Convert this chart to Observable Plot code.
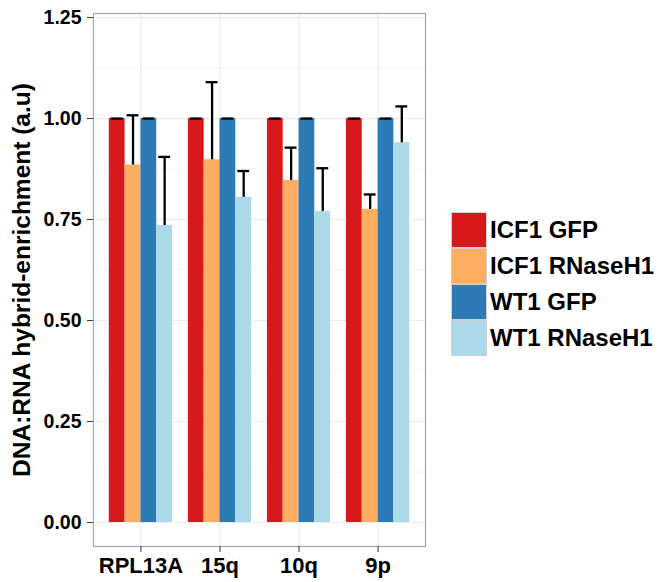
<!DOCTYPE html>
<html><head><meta charset="utf-8">
<script src="https://cdn.jsdelivr.net/npm/d3@7"></script>
<script src="https://cdn.jsdelivr.net/npm/@observablehq/plot@0.6"></script>
<style>
body{margin:0;background:#fff;font-family:"Liberation Sans",Arial,sans-serif;}
#wrap{position:relative;width:663px;height:582px;}
#legend{position:absolute;left:451px;top:212px;}
.key{display:flex;align-items:center;height:36px;}
.sw{width:36px;height:36px;box-sizing:border-box;border:1.5px solid #cfcfcf;}
.lab{margin-left:3px;font-weight:bold;font-size:24px;color:#000;white-space:nowrap;}
</style>
</head><body>
<div id="wrap"><div id="chart"></div><div id="legend"></div></div>
<script>
const categories = ["RPL13A", "15q", "10q", "9p"];
const series = ["ICF1 GFP", "ICF1 RNaseH1", "WT1 GFP", "WT1 RNaseH1"];
const colors = ["#d7191c", "#fdae61", "#2c7bb6", "#abd9e9"];
const icf1Gfp = [1.00, 1.00, 1.00, 1.00];
const icf1GfpErr = [0, 0, 0, 0];
const icf1RNaseH1 = [0.885, 0.898, 0.847, 0.775];
const icf1RNaseH1Err = [0.123, 0.192, 0.081, 0.037];
const wt1Gfp = [1.00, 1.00, 1.00, 1.00];
const wt1GfpErr = [0, 0, 0, 0];
const wt1RNaseH1 = [0.735, 0.805, 0.770, 0.940];
const wt1RNaseH1Err = [0.170, 0.065, 0.107, 0.090];
const yTicks = [0, 0.25, 0.5, 0.75, 1.0, 1.25];
const yMinor = [0.125, 0.375, 0.625, 0.875, 1.125];
const yTitle = "DNA:RNA hybrid-enrichment (a.u)";

const values = [icf1Gfp, icf1RNaseH1, wt1Gfp, wt1RNaseH1];
const errs = [icf1GfpErr, icf1RNaseH1Err, wt1GfpErr, wt1RNaseH1Err];
const barW = 0.2, capHalf = 0.075;
const rows = [];
series.forEach((s, j) => categories.forEach((c, i) => {
  const off = (j - series.length / 2) * barW;
  rows.push({series: s, category: c, x1: i + off, x2: i + off + barW, xc: i + off + barW / 2,
    value: values[j][i], top: values[j][i] + errs[j][i]});
}));
const catIdx = categories.map((c, i) => i);

const chart = Plot.plot({
  width: 663, height: 582,
  marginLeft: 93, marginRight: 238, marginTop: 13, marginBottom: 36,
  style: {fontFamily: "Liberation Sans, Arial, sans-serif", background: "white", overflow: "visible"},
  x: {domain: [-0.6, categories.length - 0.4]},
  y: {domain: [-0.0594, 1.26]},
  color: {domain: series, range: colors},
  marks: [
    Plot.ruleY(yMinor, {stroke: "#f4f4f4", strokeWidth: 1}),
    Plot.ruleY(yTicks, {stroke: "#ebebeb", strokeWidth: 1.2}),
    Plot.ruleX(catIdx, {stroke: "#ebebeb", strokeWidth: 1.2}),
    Plot.rectY(rows, {x1: "x1", x2: "x2", y1: () => 0, y2: "value", fill: "series"}),
    Plot.ruleX(rows, {x: "xc", y1: "value", y2: "top", stroke: "black", strokeWidth: 2.3}),
    Plot.ruleY(rows, {y: "top", x1: d => d.xc - capHalf, x2: d => d.xc + capHalf, stroke: "black", strokeWidth: 2.3}),
    Plot.frame({stroke: "#ababab", strokeWidth: 1.3}),
    Plot.axisY({ticks: yTicks, tickFormat: d3.format(".2f"), tickSize: 6, tickPadding: 6,
      fontSize: 19.5, fontWeight: "bold", stroke: "#333", fill: "black", label: null}),
    Plot.axisX({ticks: catIdx, tickFormat: i => categories[i], tickSize: 6, tickPadding: 5,
      fontSize: 22, fontWeight: "bold", stroke: "#333", fill: "black", label: null}),
    Plot.text([yTitle], {frameAnchor: "left", text: d => d, rotate: -90, dx: -71,
      textAnchor: "middle", lineAnchor: "middle",
      fontSize: 24.5, fontWeight: "bold", fill: "black"})
  ]
});
document.getElementById("chart").appendChild(chart);

const legend = document.getElementById("legend");
series.forEach((s, j) => {
  const k = document.createElement("div"); k.className = "key";
  const sw = document.createElement("div"); sw.className = "sw"; sw.style.background = colors[j];
  const lab = document.createElement("div"); lab.className = "lab"; lab.textContent = s;
  k.appendChild(sw); k.appendChild(lab); legend.appendChild(k);
});
</script>
</body></html>
